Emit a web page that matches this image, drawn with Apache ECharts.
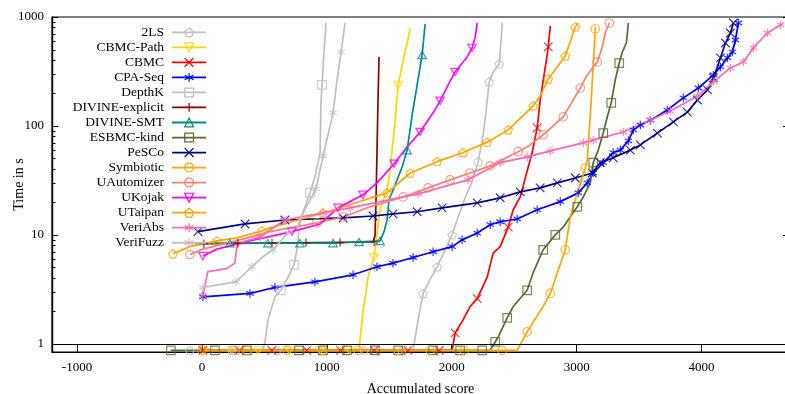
<!DOCTYPE html>
<html>
<head>
<meta charset="utf-8">
<script src="https://cdn.jsdelivr.net/npm/echarts@6/dist/echarts.min.js"></script>
<style>
  html, body { margin: 0; padding: 0; background: #fff; }
  #chart { width: 785px; height: 394px; }
</style>
</head>
<body>
<div id="chart"></div>
<script>
// Quantile plot: accumulated score (x) against CPU time per task (y, log scale).
// Results that took less than one second sit in the thin band below the "1" line.
const SUB = 0.87; // a "< 1 s" result

const X_TICKS = [-1000, 0, 1000, 2000, 3000, 4000];
const Y_TICKS = [1, 10, 100, 1000];

const TOOL_NAMES = ['2LS', 'CBMC-Path', 'CBMC', 'CPA-Seq', 'DepthK', 'DIVINE-explicit', 'DIVINE-SMT',
  'ESBMC-kind', 'PeSCo', 'Symbiotic', 'UAutomizer', 'UKojak', 'UTaipan', 'VeriAbs', 'VeriFuzz'];

// [accumulated score, time in s]
const TWO_LS = [[-96, SUB], [1691, SUB], [1731, 1.66], [1771, 2.9], [1827, 3.9], [1883, 5.1], [1947, 7.3], [2003, 10],
  [2051, 14.6], [2123, 24.3], [2163, 30.6], [2212, 47], [2252, 83], [2276, 140], [2300, 254], [2332, 313], [2380, 371],
  [2396, 615], [2404, 881]];
const TWO_LS_MARKS = [[-96, SUB], [240, SUB], [600, SUB], [960, SUB], [1300, SUB], [1600, SUB], [1771, 2.9], [1883, 5.1],
  [2003, 10], [2212, 47], [2300, 254], [2380, 371]];

const CBMC_PATH = [[0, SUB], [1258, SUB], [1274, 1.35], [1290, 2.0], [1314, 3.0], [1330, 4.1], [1378, 6.2], [1426, 17],
  [1482, 26], [1506, 39], [1547, 113], [1571, 238], [1611, 400], [1643, 577], [1667, 790]];
const CBMC_PATH_MARKS = [[8, SUB], [240, SUB], [450, SUB], [700, SUB], [950, SUB], [1180, SUB], [1378, 6.2], [1571, 238]];

const CBMC = [[8, SUB], [2003, SUB], [2027, 1.26], [2091, 1.66], [2147, 2.2], [2204, 2.6], [2284, 4.1], [2332, 6.8],
  [2388, 7.8], [2452, 11.8], [2492, 17], [2548, 22.3], [2588, 33], [2644, 57], [2684, 96], [2708, 173], [2749, 348],
  [2773, 531], [2789, 827]];
const CBMC_MARKS = [[8, SUB], [300, SUB], [560, SUB], [840, SUB], [1110, SUB], [1380, SUB], [1650, SUB], [1900, SUB],
  [2027, 1.26], [2204, 2.6], [2452, 11.8], [2684, 96], [2773, 531]];

const CPA_SEQ = [[8, 2.7], [385, 2.9], [585, 3.3], [905, 3.7], [1210, 4.3], [1402, 5.1], [1530, 5.5], [1691, 6.2],
  [1851, 7.0], [2003, 7.8], [2083, 9.0], [2204, 10.4], [2308, 12.4], [2388, 13.2], [2524, 14], [2684, 17], [2869, 20.2],
  [3013, 24.3], [3085, 30], [3133, 37], [3213, 46], [3293, 57], [3350, 60], [3414, 73], [3454, 92], [3510, 102],
  [3590, 113], [3726, 140], [3854, 181], [3975, 223], [4095, 294], [4151, 348], [4207, 421], [4247, 478], [4271, 615],
  [4295, 881]];

const DEPTHK = [[200, SUB], [489, SUB], [505, 1.04], [529, 1.66], [585, 2.7], [633, 3.1], [681, 3.9], [737, 5.3],
  [761, 7.3], [785, 12.9], [817, 17], [865, 24.3], [905, 34], [946, 57], [954, 173], [962, 238], [978, 498], [994, 881]];
const DEPTHK_MARKS = [[264, SUB], [633, 3.1], [737, 5.3], [865, 24.3], [962, 238]];

const DIVINE_EXPLICIT = [[-24, 8.3], [1370, 8.6], [1386, 9.8], [1394, 21], [1402, 60], [1410, 173], [1418, 430]];
const DIVINE_EXPLICIT_MARKS = [[16, 8.3], [288, 8.4], [561, 8.4], [833, 8.5], [1106, 8.5], [1378, 8.6]];

const DIVINE_SMT = [[-56, 8.3], [529, 8.4], [1050, 8.4], [1426, 8.8], [1458, 10.7], [1482, 13.7], [1498, 20.9],
  [1547, 28.8], [1603, 42], [1643, 60], [1683, 126], [1723, 238], [1763, 448], [1787, 863]];
const DIVINE_SMT_MARKS = [[224, 8.4], [529, 8.4], [785, 8.4], [1050, 8.4], [1258, 8.6], [1426, 8.8], [1643, 60], [1763, 448]];

const ESBMC_KIND = [[-248, SUB], [2308, SUB], [2348, 1.04], [2372, 1.16], [2444, 1.73], [2492, 2.2], [2604, 3.1],
  [2652, 4.5], [2732, 7.3], [2829, 10], [2893, 11.8], [3005, 18.1], [3053, 22.3], [3109, 30], [3133, 46], [3173, 60],
  [3213, 86], [3245, 121], [3277, 163], [3309, 264], [3341, 378], [3366, 478], [3398, 577], [3414, 881]];
const ESBMC_KIND_MARKS = [[-248, SUB], [104, SUB], [361, SUB], [777, SUB], [970, SUB], [1162, SUB], [1386, SUB],
  [1571, SUB], [1851, SUB], [2067, SUB], [2244, SUB], [2348, 1.04], [2444, 1.73], [2604, 3.1], [2732, 7.3], [2829, 10],
  [3005, 18.1], [3133, 46], [3213, 86], [3277, 163], [3341, 378]];

const PESCO = [[-32, 10.7], [345, 12.6], [665, 13.7], [1130, 14.3], [1370, 14.9], [1530, 15.6], [1723, 16.3],
  [1923, 17.7], [2204, 19.7], [2388, 21.9], [2548, 24.8], [2708, 27], [2845, 30], [2989, 33.3], [3125, 37], [3189, 46],
  [3293, 51], [3430, 60], [3510, 67], [3646, 86], [3774, 109], [3886, 134], [3967, 173], [4047, 214], [4095, 276],
  [4151, 421], [4191, 577], [4231, 713], [4255, 881]];

const SYMBIOTIC = [[0, SUB], [2524, SUB], [2604, 1.29], [2628, 1.43], [2732, 2.2], [2789, 2.9], [2845, 4.5],
  [2909, 7.3], [2949, 14.6], [3005, 24.3], [3069, 41], [3085, 49], [3117, 173], [3149, 776], [3150, 810]];
const SYMBIOTIC_MARKS = [[0, SUB], [361, SUB], [681, SUB], [970, SUB], [1250, SUB], [1571, SUB], [1827, SUB],
  [2100, SUB], [2404, SUB], [2604, 1.29], [2789, 2.9], [2909, 7.3], [3069, 41], [3149, 776]];

const UAUTOMIZER = [[-96, 6.6], [8, 7.4], [304, 9.0], [545, 10.7], [921, 12.9], [1130, 14.6], [1346, 18.1],
  [1611, 22.3], [1811, 27], [1987, 32], [2147, 37], [2308, 43], [2532, 58], [2628, 67], [2732, 83], [2893, 121],
  [3029, 223], [3085, 294], [3165, 387], [3205, 531], [3229, 713], [3261, 881]];
const UAUTOMIZER_MARKS = [[-96, 6.6], [921, 12.9], [1130, 14.6], [1611, 22.3], [1811, 27], [1987, 32], [2147, 37],
  [2308, 43], [2532, 58], [2732, 83], [2893, 121], [3029, 223], [3165, 387], [3261, 881]];

const UKOJAK = [[8, 6.4], [120, 7.4], [345, 8.6], [721, 10.7], [946, 12.6], [1090, 17.7], [1290, 23.3], [1402, 30],
  [1539, 45], [1643, 64], [1747, 88], [1851, 132], [1907, 170], [1963, 228], [2027, 313], [2123, 430], [2163, 520],
  [2188, 656], [2204, 881]];
const UKOJAK_MARKS = [[8, 6.4], [721, 10.7], [1090, 17.7], [1290, 23.3], [1539, 45], [1747, 88], [1907, 170],
  [2027, 313], [2163, 520]];

const UTAIPAN = [[-232, 6.7], [-96, 7.8], [120, 8.8], [280, 9.4], [481, 10.9], [545, 11.6], [970, 15.9], [1130, 18.1],
  [1482, 24.3], [1667, 37], [1883, 47], [2091, 57], [2284, 71], [2452, 92], [2652, 153], [2708, 188], [2773, 270],
  [2909, 439], [2989, 810], [3013, 881]];
const UTAIPAN_MARKS = [[-232, 6.7], [120, 8.8], [481, 10.9], [970, 15.9], [1482, 24.3], [1667, 37], [1883, 47],
  [2091, 57], [2284, 71], [2452, 92], [2652, 153], [2773, 270], [2909, 439], [2989, 810]];

const VERIABS = [[8, 2.8], [48, 4.6], [200, 4.9], [264, 5.5], [280, 7.8], [321, 8.6], [465, 9.6], [665, 13.7],
  [785, 14.6], [970, 15.9], [1186, 17.7], [1731, 23.8], [2131, 32], [2388, 46], [2604, 52], [2789, 59], [3053, 70],
  [3133, 74], [3374, 88], [3590, 113], [3750, 137], [3967, 188], [4095, 254], [4231, 341], [4335, 387], [4415, 520],
  [4527, 713], [4632, 845], [4648, 863]];
const VERIABS_MARKS = [[8, 2.8], [465, 9.6], [665, 13.7], [970, 15.9], [1186, 17.7], [1731, 23.8], [2131, 32],
  [2388, 46], [2604, 52], [2789, 59], [3053, 70], [3133, 74], [3374, 88], [3590, 113], [3750, 137], [3967, 188],
  [4095, 254], [4231, 341], [4335, 387], [4415, 520], [4527, 713], [4632, 845]];

const VERIFUZZ = [[8, 3.3], [272, 3.7], [401, 5.1], [489, 6.3], [569, 7.3], [689, 10.4], [761, 11.6], [801, 15.3],
  [865, 20.9], [913, 26.5], [970, 53], [1010, 83], [1050, 132], [1082, 264], [1114, 478], [1146, 881]];
const VERIFUZZ_MARKS = [[8, 3.3], [272, 3.7], [401, 5.1], [569, 7.3], [689, 10.4], [913, 26.5], [970, 53],
  [1050, 132], [1114, 478]];

// marker shapes
const SYM = {
  pentagon: 'path://M5,0 L10,3.8 L8.1,9.6 L1.9,9.6 L0,3.8 Z',
  triDown: 'path://M0,0 L10,0 L5,8.66 Z',
  triUp: 'path://M5,0 L10,8.66 L0,8.66 Z',
  square: 'path://M0,0 L10,0 L10,10 L0,10 Z',
  circle: 'circle',
  cross: 'path://M0,0 L10,10 M10,0 L0,10',
  star: 'path://M5,0 L5,10 M0.67,2.5 L9.33,7.5 M9.33,2.5 L0.67,7.5',
  bar: 'path://M5,0 L5,10 M0,5 L10,5'
};

const TOOLS = [
  { line: TWO_LS, marks: TWO_LS_MARKS, color: '#c0c0c0', symbol: SYM.pentagon },
  { line: CBMC_PATH, marks: CBMC_PATH_MARKS, color: '#ffd700', symbol: SYM.triDown },
  { line: CBMC, marks: CBMC_MARKS, color: '#ff0000', symbol: SYM.cross },
  { line: CPA_SEQ, marks: CPA_SEQ, color: '#0000ff', symbol: SYM.star },
  { line: DEPTHK, marks: DEPTHK_MARKS, color: '#c0c0c0', symbol: SYM.square },
  { line: DIVINE_EXPLICIT, marks: DIVINE_EXPLICIT_MARKS, color: '#8b0000', symbol: SYM.bar },
  { line: DIVINE_SMT, marks: DIVINE_SMT_MARKS, color: '#008b8b', symbol: SYM.triUp },
  { line: ESBMC_KIND, marks: ESBMC_KIND_MARKS, color: '#556b2f', symbol: SYM.square },
  { line: PESCO, marks: PESCO, color: '#000080', symbol: SYM.cross },
  { line: SYMBIOTIC, marks: SYMBIOTIC_MARKS, color: '#ffa500', symbol: SYM.circle },
  { line: UAUTOMIZER, marks: UAUTOMIZER_MARKS, color: '#fa8072', symbol: SYM.circle },
  { line: UKOJAK, marks: UKOJAK_MARKS, color: '#ff00ff', symbol: SYM.triDown },
  { line: UTAIPAN, marks: UTAIPAN_MARKS, color: '#ffa500', symbol: SYM.pentagon },
  { line: VERIABS, marks: VERIABS_MARKS, color: '#ff69b4', symbol: SYM.star },
  { line: VERIFUZZ, marks: VERIFUZZ_MARKS, color: '#c0c0c0', symbol: SYM.star }
];

const FONT = '"Liberation Serif", "DejaVu Serif", serif';
const lg = Math.log10;
const toXY = p => [p[0], lg(p[1])];
const Y_MIN = -0.075, Y_MAX = 3;
const Y_MINOR = [];
for (let d = 1; d < 1000; d *= 10) for (let k = 2; k <= 9; k++) Y_MINOR.push(lg(d * k));

const markerStyle = c => ({ color: 'rgba(255,255,255,0)', borderColor: c, borderWidth: 1.2 });

const series = [];
TOOLS.forEach((t, i) => {
  const name = TOOL_NAMES[i];
  series.push({
    type: 'line', name, data: t.line.map(toXY), symbol: t.symbol, showSymbol: false,
    lineStyle: { color: t.color, width: 1.7 }, itemStyle: markerStyle(t.color),
    z: 2 + i * 0.01, silent: true
  });
  series.push({
    type: 'scatter', name, data: t.marks.map(toXY), symbol: t.symbol, symbolSize: 8.5, symbolKeepAspect: true,
    itemStyle: markerStyle(t.color), z: 3 + i * 0.01, silent: true
  });
});
// the one-second line that separates the sub-second band
series[series.length - 2].markLine = {
  silent: true, symbol: ['none', 'none'], label: { show: false },
  lineStyle: { color: '#000', width: 1.2, type: 'solid' },
  data: [{ yAxis: 0 }], z: 10
};

const yAxisBase = (position, ticks, len, labels) => ({
  type: 'value', min: Y_MIN, max: Y_MAX, position,
  axisLine: { show: true, onZero: false, lineStyle: { color: '#000', width: 1.2 } },
  axisTick: { show: true, inside: true, length: len, customValues: ticks, lineStyle: { color: '#000', width: 1 } },
  axisLabel: labels ? {
    show: true, customValues: Y_TICKS.map(lg), formatter: v => String(Math.round(Math.pow(10, v))),
    color: '#000', fontFamily: FONT, fontSize: 13, margin: 8
  } : { show: false },
  splitLine: { show: false }
});

const yMain = yAxisBase('left', Y_TICKS.map(lg), 6, true);
yMain.name = 'Time in s';
yMain.nameLocation = 'middle';
yMain.nameGap = 26;
yMain.nameMoveOverlap = false;
yMain.nameTextStyle = { color: '#000', fontFamily: FONT, fontSize: 14 };

const option = {
  animation: false,
  backgroundColor: '#fff',
  grid: {
    left: 52, right: -4, top: 17, bottom: 42, show: true, borderColor: '#000', borderWidth: 1.2,
    containLabel: false, outerBoundsMode: 'none'
  },
  xAxis: {
    type: 'value', min: -1200, max: 4700,
    axisLine: { show: true, onZero: false, lineStyle: { color: '#000', width: 1.2 } },
    axisTick: { show: true, inside: true, length: 8, customValues: X_TICKS, lineStyle: { color: '#000', width: 1 } },
    axisLabel: { customValues: X_TICKS, formatter: v => String(v), color: '#000', fontFamily: FONT, fontSize: 13, margin: 9 },
    splitLine: { show: false },
    name: 'Accumulated score', nameLocation: 'middle', nameGap: 30, nameMoveOverlap: false,
    nameTextStyle: { color: '#000', fontFamily: FONT, fontSize: 14 }
  },
  yAxis: [
    yMain,
    yAxisBase('left', Y_MINOR, 3.5, false),
    yAxisBase('right', Y_TICKS.map(lg), 6, false),
    yAxisBase('right', Y_MINOR, 3.5, false)
  ],
  legend: {
    orient: 'vertical', right: 578, top: 24.8, align: 'right',
    itemWidth: 34, itemHeight: 11, itemGap: 0, padding: 0, selectedMode: false,
    textStyle: { fontFamily: FONT, fontSize: 13.5, color: '#000', lineHeight: 15.03, padding: [0, 3, 0, 0] },
    lineStyle: { width: 1.8 },
    data: TOOLS.map((t, i) => ({ name: TOOL_NAMES[i], itemStyle: markerStyle(t.color) }))
  },
  series
};

const chart = echarts.init(document.getElementById('chart'), null, { renderer: 'canvas' });
chart.setOption(option);
</script>
</body>
</html>
